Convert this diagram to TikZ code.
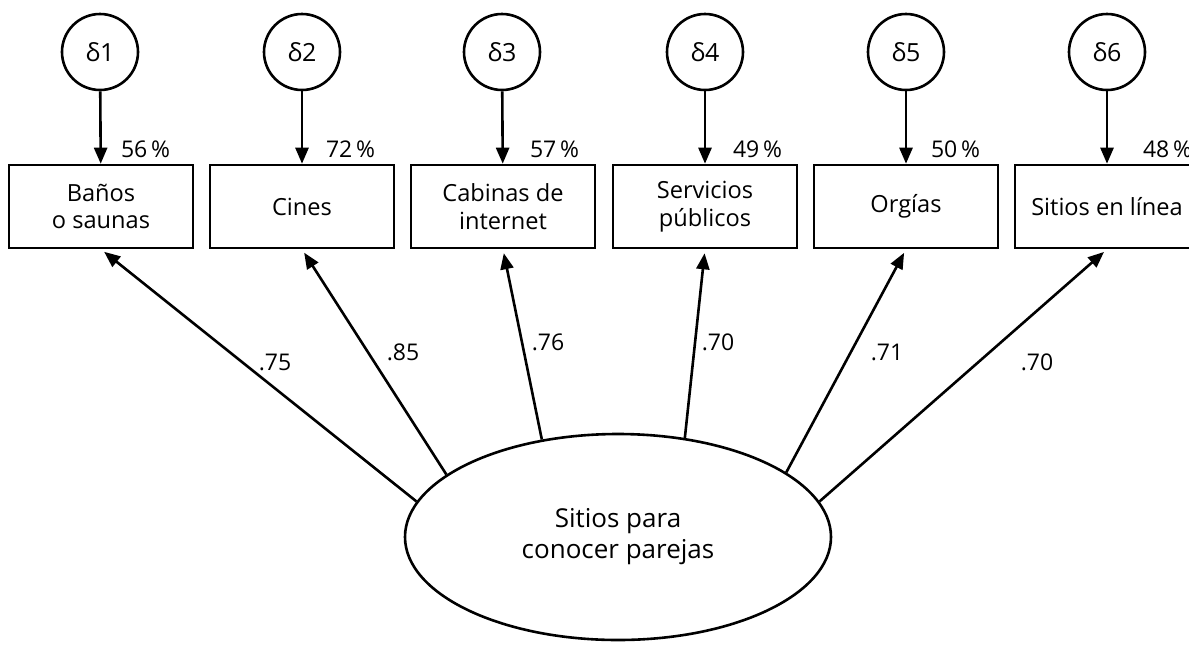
\documentclass[tikz,border=0pt]{standalone}
\usepackage{fontspec}
\setmainfont{Open Sans}
\usetikzlibrary{arrows.meta,shapes.geometric}

\tikzset{
  err/.style={draw, circle, line width=1.3pt, minimum size=38pt, inner sep=0pt, font=\fontsize{12.5}{15}\selectfont},
  obs/.style={draw, rectangle, line width=1.3pt, minimum width=92pt, minimum height=41.5pt, align=center, inner sep=2pt},
  lat/.style={draw, ellipse, line width=1.3pt, minimum width=213pt, minimum height=103pt, align=center, font=\fontsize{13}{15.5}\selectfont},
  conn/.style={line width=1.3pt, -{Triangle[length=8pt,width=6.5pt]}},
  pct/.style={anchor=west, font=\fontsize{11.5}{14}\selectfont},
  wt/.style={font=\fontsize{11.5}{14}\selectfont},
}

\begin{document}
\begin{tikzpicture}[x=0.5pt, y=-0.5pt, font=\fontsize{11.8}{13.8}\selectfont]
\clip (0,0) rectangle (1189,644);

\node[err] (d1) at (100,52) {δ1};
\node[err] (d2) at (302,52) {δ2};
\node[err] (d3) at (502,52) {δ3};
\node[err] (d4) at (705,52) {δ4};
\node[err] (d5) at (906,52) {δ5};
\node[err] (d6) at (1107,52) {δ6};

\node[obs] (b1) at (101,206.5) {Baños\\o saunas};
\node[obs] (b2) at (302,206.5) {Cines};
\node[obs] (b3) at (503,206.5) {Cabinas de\\internet};
\node[obs] (b4) at (705,206.5) {Servicios\\públicos};
\node[obs] (b5) at (906,206.5) {Orgías};
\node[obs] (b6) at (1107,206.5) {Sitios en línea};

\node[lat] (f) at (618,537) {Sitios para\\conocer parejas};

\draw[conn] (d1) -- (b1);
\draw[conn] (d2) -- (b2);
\draw[conn] (d3) -- (b3);
\draw[conn] (d4) -- (b4);
\draw[conn] (d5) -- (b5);
\draw[conn] (d6) -- (b6);

\node[pct] (p1) at (114,149) {56\,\%};
\node[pct] (p2) at (319,149) {72\,\%};
\node[pct] (p3) at (523,149) {57\,\%};
\node[pct] (p4) at (726,149) {49\,\%};
\node[pct] (p5) at (924,149) {50\,\%};
\node[pct] (p6) at (1136,149) {48\,\%};

\draw[conn, shorten >=2pt] (f.170) -- (b1.south);
\draw[conn, shorten >=2pt] (f.160) -- (b2.south);
\draw[conn, shorten >=2pt] (f.128) -- (b3.south);
\draw[conn, shorten >=2pt] (f.56) -- (b4.south);
\draw[conn, shorten >=2pt] (f.21) -- (b5.south);
\draw[conn, shorten >=2pt] (f.10) -- (b6.south);

\node[wt] (w1) at (275,362) {.75};
\node[wt] (w2) at (403,352) {.85};
\node[wt] (w3) at (548,342) {.76};
\node[wt] (w4) at (718,342) {.70};
\node[wt] (w5) at (887,352) {.71};
\node[wt] (w6) at (1037,362) {.70};

\end{tikzpicture}
\end{document}
